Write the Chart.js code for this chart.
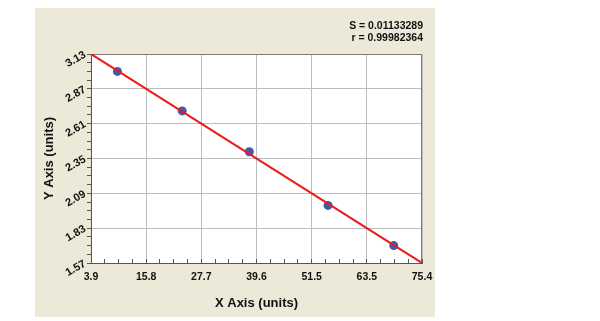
<!DOCTYPE html>
<html>
<head>
<meta charset="utf-8">
<script src="https://cdn.jsdelivr.net/npm/chart.js@4/dist/chart.umd.min.js"></script>
<style>
  html, body { margin: 0; padding: 0; background: #ffffff; }
  #c { display: block; }
</style>
</head>
<body>
<canvas id="c" width="600" height="321"></canvas>
<script>
// ---- data ----
const xTickLabels = ['3.9', '15.8', '27.7', '39.6', '51.5', '63.5', '75.4'];
const yTickLabels = ['1.57', '1.83', '2.09', '2.35', '2.61', '2.87', '3.13'];
const pointX = [9.6, 23.6, 38.1, 55.1, 69.3];
const pointY = [3.00, 2.705, 2.40, 2.00, 1.70];
const fitX = [3.9, 75.4];
const fitY = [3.13, 1.57];
const statLines = ['S = 0.01133289', 'r = 0.99982364'];
const xTitle = 'X Axis (units)';
const yTitle = 'Y Axis (units)';
const minorPerMajor = 4;

const FONT = "'Liberation Sans', Arial, sans-serif";
const xMin = parseFloat(xTickLabels[0]), xMax = parseFloat(xTickLabels[xTickLabels.length - 1]);
const yMin = parseFloat(yTickLabels[0]), yMax = parseFloat(yTickLabels[yTickLabels.length - 1]);

function buildTicks(min, max, nMajor) {
  const n = (nMajor - 1) * minorPerMajor;
  const arr = [];
  for (let i = 0; i <= n; i++) arr.push({ value: min + i * (max - min) / n });
  return arr;
}

const bgPlugin = {
  id: 'bgPanel',
  beforeDraw(chart) {
    const ctx = chart.ctx, a = chart.chartArea;
    ctx.save();
    ctx.fillStyle = '#ffffff';
    ctx.fillRect(0, 0, chart.width, chart.height);
    ctx.fillStyle = '#ECE9D8';
    ctx.fillRect(35, 8, 400, 309);
    ctx.fillStyle = '#ffffff';
    ctx.fillRect(a.left, a.top, a.right - a.left, a.bottom - a.top);
    ctx.restore();
  },
  beforeDatasetsDraw(chart) {
    const ctx = chart.ctx, a = chart.chartArea;
    ctx.save();
    ctx.strokeStyle = '#7a7a7a';
    ctx.lineWidth = 1;
    ctx.beginPath();
    ctx.moveTo(a.left, a.top + 0.5);
    ctx.lineTo(a.right - 0.5, a.top + 0.5);
    ctx.lineTo(a.right - 0.5, a.bottom);
    ctx.stroke();
    ctx.restore();
  },
  afterDraw(chart) {
    const ctx = chart.ctx, a = chart.chartArea;
    ctx.save();
    ctx.fillStyle = '#111111';
    ctx.font = 'bold 10.5px ' + FONT;
    ctx.textAlign = 'right';
    ctx.textBaseline = 'middle';
    statLines.forEach((t, i) => ctx.fillText(t, a.right + 1, 26 + i * 12.5));
    ctx.restore();
  }
};

new Chart(document.getElementById('c'), {
  type: 'scatter',
  data: {
    datasets: [
      {
        type: 'line',
        data: fitX.map((x, i) => ({ x: x, y: fitY[i] })),
        borderColor: '#EC1A1A',
        borderWidth: 2,
        pointRadius: 0,
        fill: false,
        tension: 0
      },
      {
        data: pointX.map((x, i) => ({ x: x, y: pointY[i] })),
        backgroundColor: '#3B5CB0',
        borderColor: '#3B5CB0',
        borderWidth: 0,
        pointRadius: 4.5,
        pointHoverRadius: 4.5
      }
    ]
  },
  options: {
    responsive: false,
    animation: false,
    devicePixelRatio: 1,
    layout: { padding: { left: 35, top: 54, right: 178, bottom: 0 } },
    plugins: { legend: { display: false }, tooltip: { enabled: false } },
    scales: {
      x: {
        type: 'linear',
        min: xMin, max: xMax,
        afterBuildTicks: s => { s.ticks = buildTicks(xMin, xMax, xTickLabels.length); },
        afterFit: s => { s.height = 58; },
        ticks: {
          autoSkip: false,
          maxRotation: 0, minRotation: 0,
          padding: 12,
          color: '#111111',
          font: { family: FONT, size: 10.5, weight: 'bold' },
          callback: (v, i) => (i % minorPerMajor === 0 ? xTickLabels[i / minorPerMajor] : '')
        },
        grid: {
          color: c => (c.index % minorPerMajor === 0 ? '#BDBDBD' : 'rgba(0,0,0,0)'),
          tickColor: '#555555',
          tickLength: -4,
          lineWidth: 1
        },
        border: { display: true, color: '#555555', width: 1 },
        title: {
          display: true, text: xTitle, color: '#111111',
          font: { family: FONT, size: 13, weight: 'bold' },
          padding: { top: 0, bottom: 10 }
        }
      },
      y: {
        type: 'linear',
        min: yMin, max: yMax,
        afterBuildTicks: s => { s.ticks = buildTicks(yMin, yMax, yTickLabels.length); },
        afterFit: s => { s.width = 56; },
        ticks: {
          autoSkip: false,
          minRotation: 30, maxRotation: 30,
          padding: 2,
          color: '#111111',
          font: { family: FONT, size: 11, weight: 'bold' },
          callback: (v, i) => (i % minorPerMajor === 0 ? yTickLabels[i / minorPerMajor] : '')
        },
        grid: {
          color: c => (c.index % minorPerMajor === 0 ? '#BDBDBD' : 'rgba(0,0,0,0)'),
          tickColor: '#555555',
          tickLength: 4,
          lineWidth: 1
        },
        border: { display: true, color: '#555555', width: 1 },
        title: {
          display: true, text: yTitle, color: '#111111',
          font: { family: FONT, size: 13, weight: 'bold' },
          padding: { top: 7, bottom: 0 }
        }
      }
    }
  },
  plugins: [bgPlugin]
});
</script>
</body>
</html>
